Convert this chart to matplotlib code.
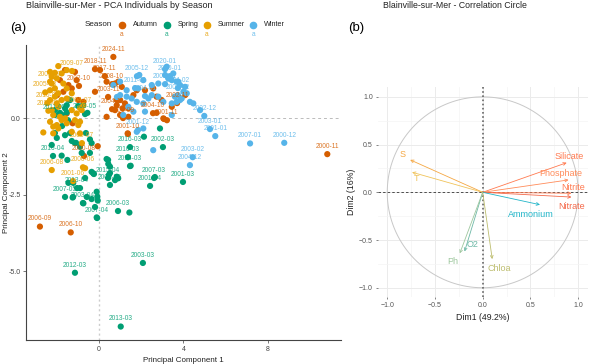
import numpy as np
import matplotlib.pyplot as plt
from matplotlib.lines import Line2D

plt.rcParams['font.family'] = ['Liberation Sans', 'DejaVu Sans']

season_colors = {"Autumn": "#D55E00", "Spring": "#009E73", "Summer": "#E69F00", "Winter": "#56B4E9"}

# individus (PC1, PC2) par saison - sans etiquette
autumn_pts = [(0.05, 1.58), (-0.19, 0.87), (0.91, 1.20), (-1.14, 1.52), (-1.06, 1.25), (-1.61, 1.58),
              (-1.45, 1.09), (-1.69, 0.87), (-1.29, 0.98), (-0.98, 0.60), (-0.74, 0.54), (0.84, 0.60),
              (1.39, 0.33), (2.73, 0.71), (2.57, 0.98), (2.97, 0.60), (4.08, 0.76), (3.45, 0.38),
              (0.36, 1.20), (0.76, 1.14), (1.08, 1.03), (1.00, 0.60), (1.63, 0.76), (1.79, 0.92),
              (2.18, 0.92), (0.76, 0.27), (1.00, 0.11), (0.36, 0.05), (3.05, 0.00), (1.23, 0.49),
              (0.84, 0.43), (1.12, 0.33), (1.39, 0.05), (2.73, 0.18), (3.08, -0.02), (1.36, -0.49),
              (-0.06, -0.91), (-1.25, -0.16), (-1.53, 0.16), (-1.85, 1.25), (-1.99, 0.76)]
spring_pts = [(-2.24, -0.87), (-1.61, -0.55), (-1.37, -0.48), (-1.14, -0.81), (-0.82, -1.13), (-0.43, -1.13),
              (-1.50, -1.36), (-0.24, -1.82), (-0.66, -1.95), (-1.22, -2.11), (-1.45, -2.11), (-0.11, -2.40),
              (-0.08, -2.56), (-0.58, -2.57), (-1.23, -2.57), (-0.19, -2.90), (0.36, -1.33), (0.43, -1.36),
              (0.47, -1.85), (0.84, -1.91), (-1.77, -1.22), (-0.90, -0.93), (-1.09, -0.80), (-1.29, -0.74),
              (-2.00, -0.64), (-2.09, -0.48), (-0.62, -0.48), (0.52, -1.58), (0.52, -1.79), (0.76, -2.02),
              (0.91, -1.96), (1.50, -1.55), (2.13, -0.60), (2.89, -0.33), (2.65, -1.92), (-0.27, -1.80),
              (-0.35, -1.75), (-0.90, -2.28), (-1.25, -2.59), (-0.35, -2.64), (-0.06, -2.69), (-0.74, -2.78),
              (1.44, -3.08), (-0.11, -3.24), (0.44, -1.49), (-1.45, 0.62), (-1.53, 0.43), (-1.61, 0.33),
              (-1.85, 0.18), (-0.98, 0.40), (-0.55, 0.18), (-2.09, 0.27), (-1.37, 0.60), (-1.53, 0.20),
              (-1.75, 0.11), (-1.66, 0.01), (-1.47, -0.06), (-1.75, -0.25), (-0.43, -0.69), (-0.35, -0.81)]
summer_pts = [(-1.93, 1.71), (-2.32, 1.52), (-2.09, 1.49), (-2.24, 1.36), (-2.00, 1.31), (-1.77, 1.47),
              (-1.53, 1.58), (-2.24, 1.14), (-2.32, 0.92), (-2.09, 0.98), (-1.93, 0.82), (-1.69, 1.14),
              (-1.53, 0.98), (-2.09, 0.71), (-2.32, 0.60), (-2.00, 0.49), (-1.77, 0.60), (-1.53, 0.65),
              (-1.29, 0.82), (-1.93, 0.38), (-2.24, 0.27), (-2.17, 0.11), (-1.85, 0.05), (-1.61, 0.00),
              (-1.29, 0.27), (-1.06, 0.16), (-0.82, 0.27), (-0.74, 0.43), (-2.32, -0.11), (-2.00, -0.22),
              (-1.53, -0.16), (-1.14, -0.06), (-0.90, -0.11), (-2.64, -0.46), (-2.17, -0.49), (-1.93, -0.33),
              (-2.17, -0.27), (-1.29, -0.44), (-0.90, -0.49), (-0.98, -0.22), (-0.66, -1.63), (-1.77, -0.06)]
winter_pts = [(1.91, 1.42), (2.10, 1.25), (1.86, 0.98), (1.31, 0.92), (1.00, 1.20), (0.68, 1.09),
              (2.50, 1.09), (2.81, 1.14), (3.21, 1.69), (3.28, 1.36), (3.45, 1.25), (3.52, 1.47),
              (3.68, 1.20), (3.84, 1.09), (4.08, 1.03), (4.16, 0.82), (3.92, 0.65), (3.68, 0.54),
              (3.45, 0.49), (3.05, 0.54), (2.81, 0.71), (2.50, 0.76), (2.34, 0.65), (2.10, 0.49),
              (1.79, 0.54), (1.55, 0.65), (1.31, 0.71), (1.00, 0.76), (1.39, 0.38), (1.63, 0.22),
              (1.15, 0.11), (2.18, 0.22), (4.31, 0.54), (4.79, 0.27), (3.45, 0.11), (2.10, -0.33),
              (3.13, 1.42), (3.28, 1.31), (3.76, 1.20), (4.00, 0.87), (3.60, 0.71), (3.84, 0.60),
              (4.47, 0.49), (2.57, -1.04), (0.85, 0.70), (1.79, -0.44)]

# individus etiquetes : (label, PC1, PC2)
autumn_lab = [("2024-11", 0.68, 2.01), ("2018-11", -0.19, 1.61), ("2017-11", 0.28, 1.38),
              ("2008-10", 0.62, 1.12), ("2002-10", -0.95, 1.06), ("2003-11", 0.43, 0.70),
              ("2004-11", 0.62, 0.30), ("2001-09", 1.14, 0.01), ("2004-10", 2.56, 0.17),
              ("2002-11", 3.70, 0.50), ("2001-11", 3.22, -0.06), ("2001-10", 1.37, -0.51),
              ("2000-11", 10.82, -1.17), ("2006-09", -2.80, -3.54), ("2006-10", -1.34, -3.73),
              ("2000-08", -0.71, -1.23)]
spring_lab = [("2003-05", -0.66, 0.14), ("2011-05", -2.09, 0.11), ("2016-03", 1.47, -0.94),
              ("2002-03", 3.03, -0.94), ("2010-03", 1.37, -1.27), ("2014-03", 1.47, -1.56),
              ("2007-03", 2.61, -1.95), ("2001-04", 2.42, -2.21), ("2001-03", 3.98, -2.08),
              ("2015-04", 0.43, -1.95), ("2001-05", 0.52, -2.18), ("2013-04", -1.04, -2.28),
              ("2007-05", -1.61, -2.57), ("2003-04", -0.76, -2.77), ("2006-03", 0.90, -3.03),
              ("2007-04", -0.09, -3.26), ("2012-03", -1.14, -5.05), ("2003-03", 2.08, -4.73),
              ("2013-03", 1.03, -6.81), ("2016-04", -2.18, -1.23)]
summer_lab = [("2009-07", -1.28, 1.55), ("2004-07", -0.90, 0.34), ("2006-08", -2.24, -1.69),
              ("2001-06", -1.23, -2.05), ("2000-06", -0.76, -1.60), ("2005-07", -0.81, -0.81),
              ("2003-07", -2.32, 1.20), ("2005-08", -2.55, 0.85), ("2010-07", -2.45, 0.50),
              ("2011-08", -2.40, 0.25)]
winter_lab = [("2005-12", 1.80, 1.38), ("2020-01", 3.13, 1.61), ("2000-01", 3.36, 1.38),
              ("2011-01", 1.71, 0.99), ("2008-01", 3.13, 1.12), ("2004-02", 3.74, 0.99),
              ("2006-02", 3.74, 0.76), ("2004-01", 2.18, 0.73), ("2001-12", 1.85, -0.38),
              ("2002-12", 4.99, 0.08), ("2003-01", 5.26, -0.35), ("2001-01", 5.51, -0.58),
              ("2007-01", 7.16, -0.82), ("2000-12", 8.78, -0.80), ("2003-02", 4.44, -1.27),
              ("2004-12", 4.31, -1.53)]

points = {"Autumn": autumn_pts, "Spring": spring_pts, "Summer": summer_pts, "Winter": winter_pts}
labelled = {"Autumn": autumn_lab, "Spring": spring_lab, "Summer": summer_lab, "Winter": winter_lab}

# cercle des correlations
variables = ["S", "T", "Silicate", "Phosphate", "Nitrite", "Nitrate", "Ammonium", "O2", "Ph", "Chloa"]
dim1 = [-0.76, -0.74, 0.88, 0.90, 0.93, 0.93, 0.60, -0.19, -0.24, 0.10]
dim2 = [0.34, 0.21, 0.31, 0.13, -0.01, -0.05, -0.13, -0.62, -0.64, -0.70]
var_label_x = [-0.84, -0.69, 0.91, 0.82, 0.95, 0.93, 0.50, -0.11, -0.31, 0.17]
var_label_y = [0.40, 0.14, 0.38, 0.20, 0.05, -0.15, -0.23, -0.55, -0.73, -0.80]
var_colors = ["#F5A742", "#F0C35A", "#FF7A50", "#FF8C5A", "#FF7A50", "#F4694A",
              "#22B5C8", "#6DB8A6", "#9EC79E", "#BDBD6E"]

fig = plt.figure(figsize=(5.89, 3.64), dpi=100)
W, H = 589, 364

# ---- (a) individus
ax1 = fig.add_axes([26 / W, 1 - 340 / H, 315 / W, 295 / H])
ax1.axvline(0, color="#cccccc", lw=1.0, ls=(0, (1.5, 2)), zorder=0)
ax1.axhline(0, color="#bbbbbb", lw=0.7, ls=(0, (3, 3)), zorder=0)
for season in ["Autumn", "Spring", "Summer", "Winter"]:
    pts = np.array(points[season] + [(x, y) for _, x, y in labelled[season]])
    ax1.scatter(pts[:, 0], pts[:, 1], s=20, color=season_colors[season], edgecolors="none", zorder=2)
for season in ["Autumn", "Spring", "Summer", "Winter"]:
    for lab, x, y in labelled[season]:
        ax1.annotate(lab, (x, y), xytext=(0, 5.5), textcoords="offset points", ha="center", va="center",
                     fontsize=4.8, color=season_colors[season], alpha=0.85, zorder=3)
ax1.set_xlim(-3.46, 11.47)
ax1.set_ylim(-7.25, 2.4)
ax1.set_xticks([0, 4, 8])
ax1.set_xticklabels(["0", "4", "8"])
ax1.set_yticks([-5.0, -2.5, 0.0])
ax1.set_yticklabels(["-5.0", "-2.5", "0.0"])
for s in ["top", "right"]:
    ax1.spines[s].set_visible(False)
for s in ["left", "bottom"]:
    ax1.spines[s].set_color("#444444")
    ax1.spines[s].set_linewidth(0.8)
ax1.tick_params(labelsize=5, colors="#444444", length=2, width=0.5, pad=2)
ax1.set_xlabel("Principal Component 1", fontsize=5.8, color="#222222", labelpad=3)
ax1.set_ylabel("Principal Component 2", fontsize=5.8, color="#222222")
ax1.yaxis.set_label_coords(-0.052, 0.5)

fig.text(26 / W, 1 - 6 / H, "Blainville-sur-Mer - PCA Individuals by Season", fontsize=6.5,
         color="#222222", ha="left", va="center")
fig.text(10 / W, 1 - 28 / H, "(a)", fontsize=9.5, ha="left", va="center")

# legende
fig.text(85 / W, 1 - 25 / H, "Season", fontsize=5.8, ha="left", va="center", color="#222222")
leg_x = [121.7, 166.7, 206.7, 253.3]
for season, lx in zip(["Autumn", "Spring", "Summer", "Winter"], leg_x):
    fig.add_artist(Line2D([lx / W], [1 - 25 / H], marker="o", ms=4.5, color=season_colors[season],
                          ls="none", transform=fig.transFigure))
    fig.text((lx + 11) / W, 1 - 25 / H, season, fontsize=5.2, ha="left", va="center", color="#222222")
    fig.text(lx / W, 1 - 35 / H, "a", fontsize=4.8, ha="center", va="center",
             color=season_colors[season], alpha=0.85)

# ---- (b) cercle des correlations
ax2 = fig.add_axes([377.7 / W, 1 - 297.3 / H, 210 / W, 210 / H])
ax2.set_xlim(-1.1, 1.1)
ax2.set_ylim(-1.1, 1.1)
ax2.set_aspect("equal")
ax2.set_xticks([-1.0, -0.5, 0.0, 0.5, 1.0])
ax2.set_yticks([-1.0, -0.5, 0.0, 0.5, 1.0])
ax2.set_xticks([-0.75, -0.25, 0.25, 0.75], minor=True)
ax2.set_yticks([-0.75, -0.25, 0.25, 0.75], minor=True)
ax2.grid(which="major", color="#ebebeb", lw=0.7)
ax2.grid(which="minor", color="#f4f4f4", lw=0.5)
ax2.set_axisbelow(True)
for s in ax2.spines.values():
    s.set_visible(False)
ax2.tick_params(which="major", labelsize=5, colors="#555555", length=1.5, width=0.5, pad=2)
ax2.tick_params(which="minor", length=0)
theta = np.linspace(0, 2 * np.pi, 300)
ax2.plot(np.cos(theta), np.sin(theta), color="#c8c8c8", lw=0.7, zorder=1)
ax2.axhline(0, color="#333333", lw=0.6, ls=(0, (3, 2.5)), zorder=1)
ax2.axvline(0, color="#666666", lw=1.2, ls=(0, (1, 1.5)), zorder=1)
for name, x, y, lx, ly, c in zip(variables, dim1, dim2, var_label_x, var_label_y, var_colors):
    ax2.annotate("", xy=(x, y), xytext=(0, 0),
                 arrowprops=dict(arrowstyle="->", color=c, lw=0.6, mutation_scale=5, shrinkA=0, shrinkB=0),
                 zorder=2)
    ax2.text(lx, ly, name, color=c, fontsize=6.5, ha="center", va="center", zorder=3)
ax2.set_xlabel("Dim1 (49.2%)", fontsize=6.3, color="#222222", labelpad=3)
ax2.set_ylabel("Dim2 (16%)", fontsize=6.3, color="#222222", labelpad=2)

fig.text(455 / W, 1 - 6 / H, "Blainville-sur-Mer - Correlation Circle", fontsize=6.3,
         color="#222222", ha="center", va="center")
fig.text(348 / W, 1 - 28 / H, "(b)", fontsize=9.5, ha="left", va="center")

fig.savefig("out.png", dpi=100)
